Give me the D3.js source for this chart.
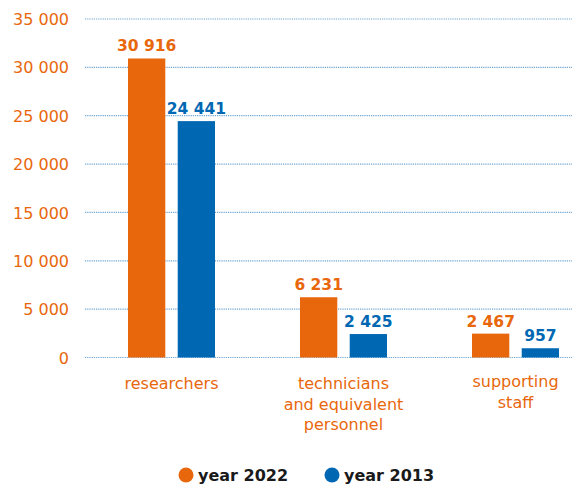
<!DOCTYPE html>
<html><head><meta charset="utf-8">
<script src="https://cdn.jsdelivr.net/npm/d3@7"></script>
<style>body{margin:0;background:#fff}svg{display:block}text{font-family:"DejaVu Sans",sans-serif}</style>
</head><body><svg id="c" width="572" height="485"></svg>
<script>
const categories = [["researchers"], ["technicians", "and equivalent", "personnel"], ["supporting", "staff"]];
const catKeys = ["researchers", "technicians", "supporting"];
const series = ["year 2022", "year 2013"];
const values2022 = [30916, 6231, 2467];
const values2013 = [24441, 2425, 957];
const yTicks = [0, 5000, 10000, 15000, 20000, 25000, 30000, 35000];
const colors = ["#E8670C", "#0068B3"];

const svg = d3.select("#c");
const W = 572, H = 485;
const x0 = d3.scaleBand().domain(catKeys).range([85.5, 601.5]).paddingInner(0).paddingOuter(0);
const x1 = d3.scaleBand().domain(series).range([-43.5, 43.5]).paddingInner(0.25);
const y = d3.scaleLinear().domain([0, 35000]).range([357.5, 19]);
const fmt = v => d3.format(",")(v).replace(/,/g, " ");

// grid
svg.append("g").selectAll("line").data(yTicks).join("line")
  .attr("x1", 85).attr("x2", W).attr("y1", d => y(d)).attr("y2", d => y(d))
  .attr("stroke", "#4a8fc9").attr("stroke-width", 1.2).attr("stroke-dasharray", "1.2,1").attr("opacity", 0.8);

// y axis labels
const yAxis = d3.axisLeft(y).tickValues(yTicks).tickSize(0).tickPadding(0).tickFormat(fmt);
const ga = svg.append("g").attr("transform", "translate(69,0)").call(yAxis);
ga.select(".domain").remove();
ga.selectAll("text").attr("fill", colors[0]).attr("font-size", 16).attr("dy", "0.35em").style("font-family", '"DejaVu Sans",sans-serif');

const data = catKeys.map((k, i) => ({k, vals: [values2022[i], values2013[i]]}));
const groups = svg.append("g").selectAll("g").data(data).join("g")
  .attr("transform", d => `translate(${x0(d.k) + x0.bandwidth() / 2},0)`);
groups.selectAll("rect").data(d => d.vals.map((v, j) => ({v, s: series[j], j}))).join("rect")
  .attr("x", d => x1(d.s)).attr("width", x1.bandwidth())
  .attr("y", d => y(d.v)).attr("height", d => y(0) - y(d.v))
  .attr("fill", d => colors[d.j]);
groups.selectAll("text.val").data(d => d.vals.map((v, j) => ({v, s: series[j], j}))).join("text")
  .attr("class", "val")
  .attr("x", d => x1(d.s) + x1.bandwidth() / 2).attr("y", d => y(d.v) - 7)
  .attr("text-anchor", "middle").attr("font-size", 15.5).attr("font-weight", 700)
  .attr("fill", d => colors[d.j]).text(d => fmt(d.v));

// category labels
groups.each(function(d, i) {
  const g = d3.select(this);
  categories[i].forEach((line, li) => {
    g.append("text").attr("text-anchor", "middle").attr("fill", colors[0]).attr("font-size", 16)
      .attr("x", 0).attr("y", (i === 2 ? 387 : 389) + li * 20.5).text(line);
  });
});

// legend
const lx = [186, 332];
const lg = svg.append("g").selectAll("g").data(series).join("g")
  .attr("transform", (d, i) => `translate(${lx[i]},475)`);
lg.append("circle").attr("r", 7.5).attr("fill", (d, i) => colors[i]);
lg.append("text").attr("x", 12).attr("y", 6).attr("font-size", 16).attr("font-weight", 700).attr("fill", "#1a1a1a").text(d => d);
</script></body></html>
